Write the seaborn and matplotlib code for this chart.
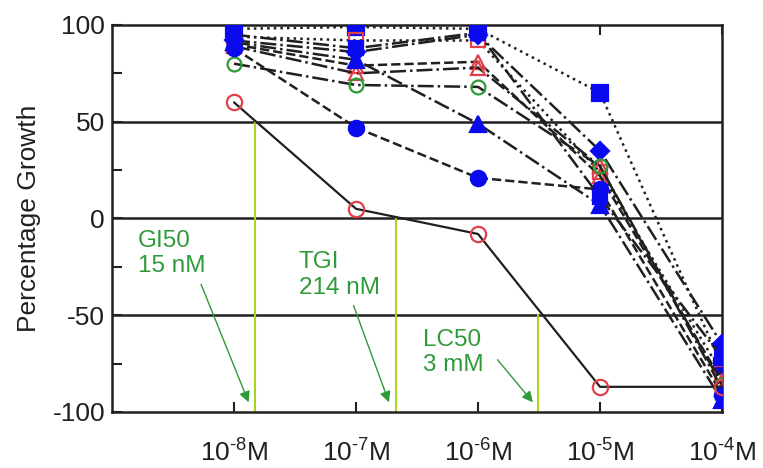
import numpy as np
import pandas as pd
import matplotlib
matplotlib.use("Agg")
import matplotlib.pyplot as plt
import seaborn as sns
from matplotlib.ticker import FixedLocator, FuncFormatter

# ---------------- data ----------------
concentrations = [1e-8, 1e-7, 1e-6, 1e-5, 1e-4]
tick_labels = [r"10$^{\text{-8}}$M", r"10$^{\text{-7}}$M",
               r"10$^{\text{-6}}$M", r"10$^{\text{-5}}$M",
               r"10$^{\text{-4}}$M"]

mean_line = [60, 5, -8, -87, -87]          # red open circles, solid line
blue_square = [98, 99, 98, 65, -76]
red_square = [94, 92, 92, 24, -80]
blue_diamond = [92, 86, 95, 35, -65]
red_triangle_a = [90, 79, 81, 22, -84]
red_triangle_b = [89, 75, 78, 27, -88]
green_circle = [80, 69, 68, 27, -86]
blue_triangle = [91, 82, 49, 7, -94]
blue_circle = [88, 47, 21, 15, -91]
blue_square_b = [95, 88, 96, 11, -72]

gi50, tgi, lc50 = 1.5e-8, 2.14e-7, 3.1e-6
gi50_level, tgi_level, lc50_level = 50, 0, -50
annot_texts = ["GI50\n15 nM", "TGI\n214 nM", "LC50\n3 mM"]

# ---------------- style ----------------
sns.set_style("white")
plt.rcParams["font.family"] = ["Liberation Sans", "DejaVu Sans"]
plt.rcParams["mathtext.fontset"] = "custom"
plt.rcParams["mathtext.rm"] = "Liberation Sans"
plt.rcParams["mathtext.it"] = "Liberation Sans:italic"
plt.rcParams["mathtext.bf"] = "Liberation Sans:bold"

BLUE = "#0a0aee"
RED = "#e0404a"
GREEN = "#2f9a3a"
LIME = "#a8d424"
LINE = "#202020"

fig = plt.figure(figsize=(7.63, 4.68), dpi=100)
ax = fig.add_axes([0.1468, 0.1197, 0.7995, 0.8269])

series = [
    (blue_square, "s", BLUE, True, ":", 11),
    (red_square, "s", RED, False, ":", 10),
    (blue_diamond, "D", BLUE, True, "-.", 9),
    (red_triangle_a, "^", RED, False, "--", 10),
    (red_triangle_b, "^", RED, False, "-.", 10),
    (green_circle, "o", GREEN, False, "-.", 10),
    (blue_triangle, "^", BLUE, True, "-.", 11),
    (blue_circle, "o", BLUE, True, "--", 11),
    (blue_square_b, "s", BLUE, True, "-.", 10),
]

for vals, mk, col, filled, ls, ms in series:
    df = pd.DataFrame({"conc": concentrations, "growth": vals})
    sns.lineplot(data=df, x="conc", y="growth", ax=ax, color=LINE,
                 linestyle=ls, linewidth=1.8, marker=mk, markersize=ms,
                 markerfacecolor=(col if filled else "none"),
                 markeredgecolor=col, markeredgewidth=1.6,
                 zorder=3, legend=False)

df_mean = pd.DataFrame({"conc": concentrations, "growth": mean_line})
sns.lineplot(data=df_mean, x="conc", y="growth", ax=ax, color=LINE,
             linestyle="-", linewidth=1.6, marker="o", markersize=11,
             markerfacecolor="none", markeredgecolor=RED,
             markeredgewidth=1.6, zorder=4, legend=False)

# horizontal reference lines
for lvl in (50, 0, -50):
    ax.axhline(lvl, color=LINE, linewidth=1.8, zorder=2)

ax.set_xscale("log")
ax.set_xlim(1e-9, 1e-4)
ax.set_ylim(-100, 100)

# vertical GI50 / TGI / LC50 lines
for xv, lvl in ((gi50, gi50_level), (tgi, tgi_level), (lc50, lc50_level)):
    ax.plot([xv, xv], [-100, lvl], color=LIME, linewidth=1.5, zorder=2.5)

# annotations
text_pos = [(10 ** -8.79, -6), (10 ** -7.47, -17), (10 ** -6.45, -57)]
arrow_start = [(10 ** -8.27, -34), (10 ** -7.02, -45), (10 ** -5.84, -73)]
arrow_end = [(10 ** -7.88, -95), (10 ** -6.73, -95), (10 ** -5.55, -95)]
for t, tp, a0, a1 in zip(annot_texts, text_pos, arrow_start, arrow_end):
    ax.text(tp[0], tp[1], t, color=GREEN, fontsize=17.5, va="top",
            ha="left", linespacing=1.2, zorder=5)
    ax.annotate("", xy=a1, xytext=a0,
                arrowprops=dict(arrowstyle="-|>", color=GREEN, lw=1.0,
                                mutation_scale=16, shrinkA=0, shrinkB=0),
                zorder=5)

# ticks
ax.xaxis.set_major_locator(FixedLocator(concentrations))
ax.xaxis.set_minor_locator(FixedLocator([]))
ax.set_xticklabels(tick_labels)
ax.yaxis.set_major_locator(FixedLocator(np.arange(-100, 101, 25)))
ax.yaxis.set_major_formatter(FuncFormatter(
    lambda v, p: f"{int(v)}" if int(v) % 50 == 0 else ""))
ax.tick_params(axis="x", direction="in", length=7, width=1.5, pad=20,
               labelsize=19, bottom=True, top=True, colors=LINE)
ax.tick_params(axis="y", direction="in", length=7, width=1.5, pad=5,
               labelsize=19, left=True, right=False, colors=LINE)

ax.set_xlabel("")
ax.set_ylabel("Percentage Growth", fontsize=19, color=LINE, labelpad=8)

for s in ax.spines.values():
    s.set_visible(True)
    s.set_color(LINE)
    s.set_linewidth(1.8)

fig.savefig("out.png", dpi=100)
